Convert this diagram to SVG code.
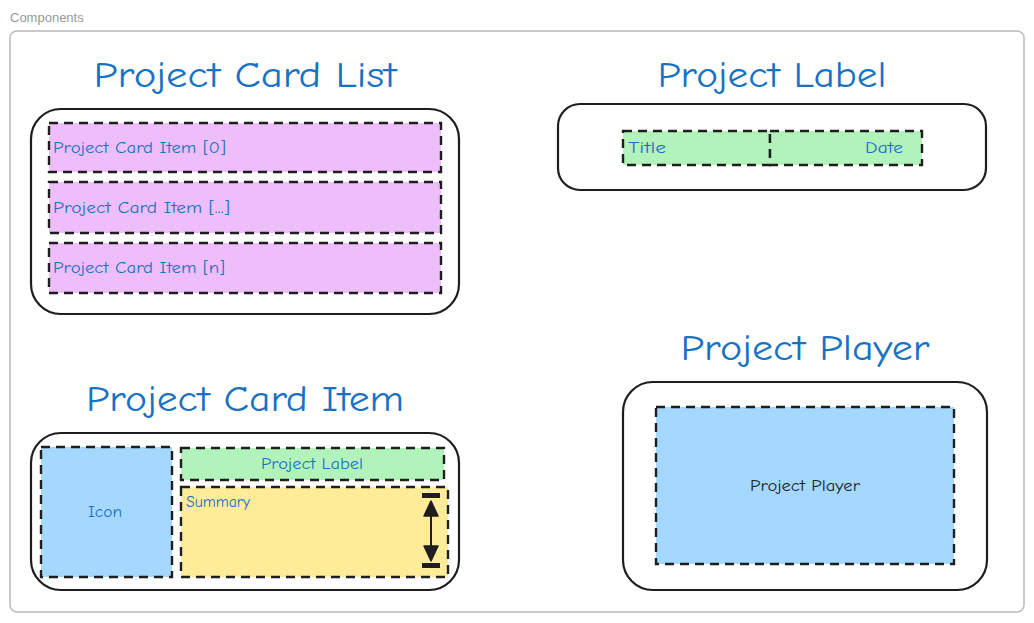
<svg xmlns="http://www.w3.org/2000/svg" width="1034" height="623" viewBox="0 0 1034 623">
<style>
.frame{fill:#fff;stroke:#bbb;stroke-width:1.5}
.cont{fill:#fff;stroke:#1e1e1e;stroke-width:2.2}
.dash{stroke:#1e1e1e;stroke-width:2.4;stroke-dasharray:9 6}
.title{font-family:"Comic Neue","Lato","Liberation Sans",sans-serif;font-size:36px;fill:#1971c2;text-anchor:middle}
.lbl{font-family:"Comic Neue","Lato","Liberation Sans",sans-serif;font-size:15px;fill:#1971c2}
.pink{fill:#eebefa}.green{fill:#b2f2bb}.blue{fill:#a5d8ff}.yellow{fill:#ffec99}
</style>
<rect width="1034" height="623" fill="#fff"/>
<g id="frame">
<text x="10" y="22" font-family="Liberation Sans, sans-serif" font-size="13" fill="#999">Components</text>
<rect class="frame" x="10" y="31" width="1014" height="581" rx="7"/>
</g>
<g id="project-card-list">
<text class="title" x="245" y="87" textLength="303" lengthAdjust="spacingAndGlyphs">Project Card List</text>
<rect class="cont" x="31" y="109" width="428" height="205" rx="30"/>
<rect class="pink dash" x="49" y="123" width="392" height="49"/>
<rect class="pink dash" x="49" y="182" width="392" height="51"/>
<rect class="pink dash" x="49" y="243" width="392" height="50"/>
<text class="lbl" x="53" y="153" textLength="173" lengthAdjust="spacingAndGlyphs">Project Card Item [0]</text>
<text class="lbl" x="53" y="213" textLength="177" lengthAdjust="spacingAndGlyphs">Project Card Item [...]</text>
<text class="lbl" x="53" y="273" textLength="172" lengthAdjust="spacingAndGlyphs">Project Card Item [n]</text>
</g>
<g id="project-label">
<text class="title" x="772" y="87" textLength="229" lengthAdjust="spacingAndGlyphs">Project Label</text>
<rect class="cont" x="558" y="104" width="428" height="86" rx="22"/>
<rect class="green dash" x="623" y="131" width="147" height="34"/>
<rect class="green dash" x="770" y="131" width="152" height="34"/>
<text class="lbl" x="628" y="153" textLength="38" lengthAdjust="spacingAndGlyphs">Title</text>
<text class="lbl" x="903" y="153" text-anchor="end" textLength="38" lengthAdjust="spacingAndGlyphs">Date</text>
</g>
<g id="project-card-item">
<text class="title" x="245" y="411" textLength="318" lengthAdjust="spacingAndGlyphs">Project Card Item</text>
<rect class="cont" x="31" y="433" width="428" height="157" rx="30"/>
<rect class="blue dash" x="41" y="447" width="131" height="130"/>
<text class="lbl" x="105" y="517" text-anchor="middle" textLength="34" lengthAdjust="spacingAndGlyphs">Icon</text>
<rect class="green dash" x="181" y="448" width="263" height="32"/>
<text class="lbl" x="312" y="469" text-anchor="middle" textLength="102" lengthAdjust="spacingAndGlyphs">Project Label</text>
<rect class="yellow dash" x="181" y="487" width="267" height="90"/>
<text class="lbl" x="186" y="507" textLength="64" lengthAdjust="spacingAndGlyphs">Summary</text>
<rect x="422" y="493" width="18" height="5" fill="#1e1e1e"/>
<rect x="422" y="563" width="18" height="5" fill="#1e1e1e"/>
<line x1="431" y1="510" x2="431" y2="551" stroke="#1e1e1e" stroke-width="2"/>
<path d="M431,501 L438,516 L424,516 Z M431,561 L438,546 L424,546 Z" fill="#1e1e1e" stroke="#1e1e1e" stroke-width="1.5" stroke-linejoin="round"/>
</g>
<g id="project-player">
<text class="title" x="805" y="360" textLength="249" lengthAdjust="spacingAndGlyphs">Project Player</text>
<rect class="cont" x="623" y="382" width="364" height="208" rx="30"/>
<rect class="blue dash" x="656" y="407" width="298" height="157"/>
<text class="lbl" x="805" y="491" text-anchor="middle" style="fill:#1e1e1e" textLength="110" lengthAdjust="spacingAndGlyphs">Project Player</text>
</g>
<g id="connectors"></g>
</svg>
